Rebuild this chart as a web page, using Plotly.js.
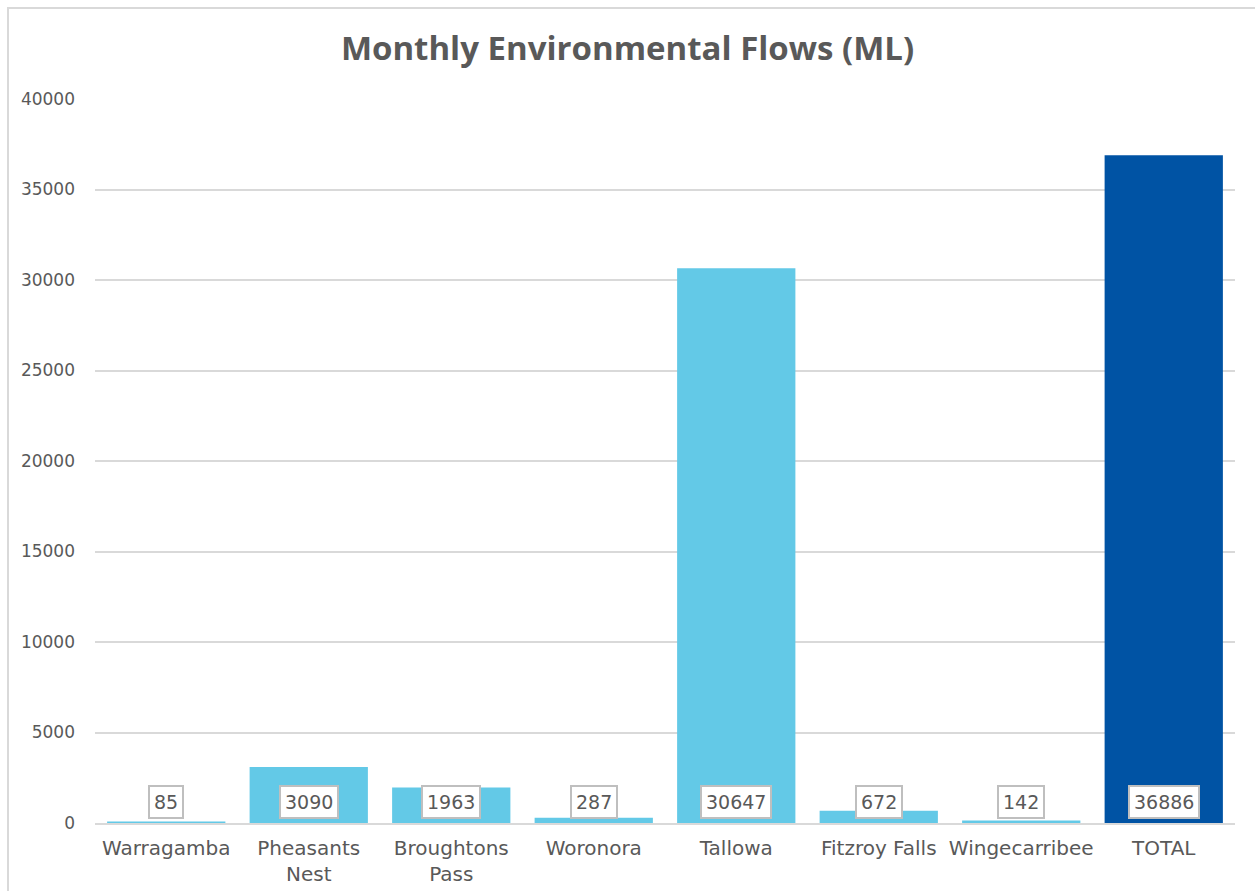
<!DOCTYPE html>
<html>
<head>
<meta charset="utf-8">
<script src="https://cdn.plot.ly/plotly-3.0.1.min.js"></script>
<style>
  body { margin: 0; padding: 0; background: #ffffff; overflow: hidden; }
  #chart { position: absolute; left: 0; top: 0; width: 1255px; height: 891px; }
</style>
</head>
<body>
<div id="chart"></div>
<script>
// Data
const categories = ['Warragamba', 'Pheasants Nest', 'Broughtons Pass', 'Woronora', 'Tallowa', 'Fitzroy Falls', 'Wingecarribee', 'TOTAL'];
const tickLabels = ['Warragamba', 'Pheasants<br>Nest', 'Broughtons<br>Pass', 'Woronora', 'Tallowa', 'Fitzroy Falls', 'Wingecarribee', 'TOTAL'];
const flows = [85, 3090, 1963, 287, 30647, 672, 142, 36886];
const yTicks = [0, 5000, 10000, 15000, 20000, 25000, 30000, 35000, 40000];

const lightBlue = '#63c9e7';
const darkBlue = '#0053a4';
const textGrey = '#595959';
const labelFont = 'DejaVu Sans';

const W = 1255, H = 891;
const M = { l: 95, r: 20, t: 99, b: 68 };
const pw = W - M.l - M.r, ph = H - M.t - M.b;
const px = p => (p - M.l) / pw;
const py = p => (H - M.b - p) / ph;

const trace = {
  type: 'bar',
  x: categories,
  y: flows,
  marker: { color: categories.map(c => c === 'TOTAL' ? darkBlue : lightBlue), line: { width: 0 } },
  hoverinfo: 'x+y'
};

const annotations = categories.map((c, i) => ({
  x: c,
  y: 0,
  xref: 'x',
  yref: 'y',
  text: String(flows[i]),
  showarrow: false,
  yanchor: 'bottom',
  yshift: 4,
  font: { family: labelFont, size: 19, color: textGrey },
  bgcolor: '#ffffff',
  bordercolor: '#bfbfbf',
  borderwidth: 2,
  borderpad: 4
}));

const frameShapes = [
  { type: 'line', xref: 'paper', yref: 'paper', x0: px(8), x1: px(8), y0: py(7), y1: py(H + 10),
    line: { color: '#d9d9d9', width: 2 }, layer: 'above' },
  { type: 'line', xref: 'paper', yref: 'paper', x0: px(7), x1: px(W + 10), y0: py(8), y1: py(8),
    line: { color: '#d9d9d9', width: 2 }, layer: 'above' }
];

const layout = {
  width: W,
  height: H,
  paper_bgcolor: '#ffffff',
  plot_bgcolor: '#ffffff',
  margin: M,
  bargap: 0.17,
  showlegend: false,
  title: {
    text: '<b>Monthly Environmental Flows (ML)</b>',
    font: { family: 'Open Sans, sans-serif', size: 33, color: textGrey },
    x: 0.5,
    xanchor: 'center',
    y: 1 - 48 / H,
    yanchor: 'middle',
    yref: 'container'
  },
  xaxis: {
    type: 'category',
    tickvals: categories,
    ticktext: tickLabels,
    tickfont: { family: labelFont, size: 20, color: textGrey },
    showgrid: false,
    showline: true,
    linecolor: '#d9d9d9',
    linewidth: 2,
    ticks: '',
    zeroline: false,
    ticklabelstandoff: 6
  },
  yaxis: {
    range: [0, 40000],
    tickvals: yTicks,
    ticktext: yTicks.map(String),
    tickfont: { family: labelFont, size: 17, color: textGrey },
    showgrid: true,
    gridcolor: '#d9d9d9',
    gridwidth: 2,
    zeroline: false,
    showline: false,
    ticks: '',
    ticklabelstandoff: 19
  },
  shapes: frameShapes,
  annotations: annotations
};

Plotly.newPlot('chart', [trace], layout, { displayModeBar: false, staticPlot: true });
</script>
</body>
</html>
